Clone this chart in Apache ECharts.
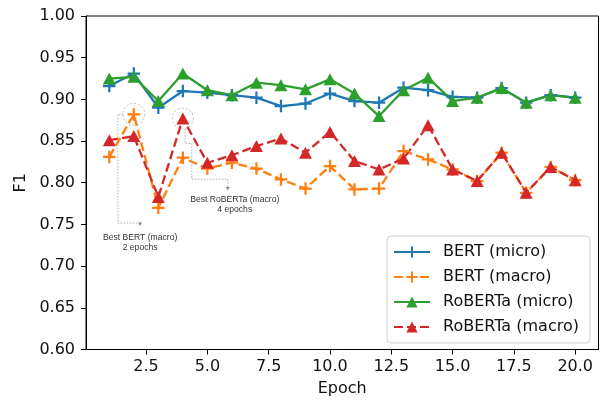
<!DOCTYPE html>
<html><head><meta charset="utf-8">
<script src="https://cdn.jsdelivr.net/npm/echarts@6/dist/echarts.min.js"></script>
<style>html,body{margin:0;padding:0;background:#fff}#c{width:606px;height:401px}</style>
</head><body><div id="c"></div>
<script>
const epochs = [1,2,3,4,5,6,7,8,9,10,11,12,13,14,15,16,17,18,19,20];
const bertMicro = [0.916,0.931,0.890,0.910,0.908,0.905,0.902,0.892,0.895,0.907,0.898,0.896,0.914,0.911,0.903,0.902,0.9135,0.896,0.905,0.902];
const bertMacro = [0.831,0.882,0.770,0.830,0.817,0.824,0.817,0.804,0.793,0.820,0.792,0.793,0.838,0.828,0.816,0.802,0.836,0.788,0.819,0.803];
const robertaMicro = [0.925,0.927,0.898,0.931,0.911,0.905,0.920,0.917,0.912,0.924,0.907,0.880,0.911,0.926,0.898,0.902,0.9135,0.896,0.905,0.902];
const robertaMacro = [0.851,0.856,0.783,0.877,0.824,0.833,0.844,0.853,0.836,0.861,0.826,0.816,0.829,0.869,0.816,0.802,0.836,0.788,0.819,0.803];
const xTicks = [2.5,5,7.5,10,12.5,15,17.5,20];
const seriesNames = ['BERT (micro)','BERT (macro)','RoBERTa (micro)','RoBERTa (macro)'];
const annoTexts = [['Best BERT (macro)','2 epochs'],['Best RoBERTa (macro)','4 epochs']];

const plus = 'path://M0,4.1H4.1V0H5.9V4.1H10V5.9H5.9V10H4.1V5.9H0Z';
const toData = arr => epochs.map((e,i)=>[e,arr[i]]);
function mk(name, arr, color, dashed, symbol, size){
  return {name, type:'line', data:toData(arr), symbol, symbolSize:size, showSymbol:true,
    lineStyle:{color, width:2.3, type: dashed?[9,4]:'solid'}, itemStyle:{color, borderWidth:0},
    emphasis:{disabled:true}, animation:false};
}
const font = 'DejaVu Sans';
const chart = echarts.init(document.getElementById('c'), null, {renderer:'canvas'});
chart.setOption({
  animation:false,
  grid:{left:86, right:7.5, top:16, bottom:51.5, containLabel:false, outerBoundsMode:'none',
        show:true, borderColor:'#000', borderWidth:1, backgroundColor:'transparent'},
  xAxis:{type:'value', min:0.05, max:20.95, name:'Epoch', nameLocation:'middle', nameGap:31.5,
    nameTextStyle:{fontFamily:font, fontSize:16, color:'#111'},
    axisLine:{show:true, lineStyle:{color:'#000', width:1}},
    axisTick:{show:true, length:5, lineStyle:{color:'#000'}, customValues:xTicks},
    axisLabel:{fontFamily:font, fontSize:16, color:'#111', margin:9, customValues:xTicks, formatter:v=>v.toFixed(1)},
    splitLine:{show:false}},
  yAxis:{type:'value', min:0.6, max:1.0, interval:0.05, name:'F1', nameLocation:'middle', nameGap:55, nameRotate:90,
    nameTextStyle:{fontFamily:font, fontSize:16, color:'#111'},
    axisLine:{show:true, lineStyle:{color:'#000', width:1}},
    axisTick:{show:true, length:5, lineStyle:{color:'#000'}},
    axisLabel:{fontFamily:font, fontSize:16, color:'#111', margin:11, formatter:v=>v.toFixed(2)},
    splitLine:{show:false}},
  legend:{orient:'vertical', left:387, top:236, itemWidth:36, itemHeight:14, itemGap:9,
    padding:[8,11,8,6], backgroundColor:'#fff', borderColor:'#d0d0d0', borderWidth:1, borderRadius:4,
    textStyle:{fontFamily:font, fontSize:16, color:'#111', padding:[0,0,0,8]},
    data:seriesNames},
  series:[
    mk(seriesNames[0], bertMicro, '#1f77b4', false, plus, 12.5),
    mk(seriesNames[1], bertMacro, '#ff7f0e', true, plus, 12.5),
    mk(seriesNames[2], robertaMicro, '#2ca02c', false, 'triangle', [13,12]),
    mk(seriesNames[3], robertaMacro, '#d62728', true, 'triangle', [13,12])
  ]
});

function arrowHead(x,y){
  return {type:'polygon', shape:{points:[[x-2,y-3.5],[x+2,y-3.5],[x,y]]}, style:{fill:'#888'}, z:10};
}
const p1 = chart.convertToPixel({gridIndex:0}, [epochs[1], bertMacro[1]]);
const p2 = chart.convertToPixel({gridIndex:0}, [epochs[3], robertaMacro[3]]);
const gStyle = {stroke:'#999', lineWidth:0.8, lineDash:[1.5,1.5], fill:null};
const tStyle = {fontFamily:'Liberation Sans', fontSize:8.6, fill:'#333', align:'center', verticalAlign:'middle'};
chart.setOption({graphic:[
  {type:'circle', shape:{cx:p1[0], cy:p1[1], r:11}, style:{stroke:'#aaa', lineWidth:0.8, lineDash:[2,2], fill:null}, z:10},
  {type:'polyline', shape:{points:[[p1[0]-10.5,p1[1]],[p1[0]-16,p1[1]],[p1[0]-16,p1[1]+108.7],[p1[0]+6.3,p1[1]+108.7],[p1[0]+6.3,p1[1]+110]]}, style:gStyle, z:10},
  arrowHead(p1[0]+6.3, p1[1]+111.5),
  {type:'text', style:Object.assign({x:p1[0]+6.3, y:p1[1]+123.7, text:annoTexts[0][0]}, tStyle), z:10},
  {type:'text', style:Object.assign({x:p1[0]+6.3, y:p1[1]+133.7, text:annoTexts[0][1]}, tStyle), z:10},
  {type:'circle', shape:{cx:p2[0], cy:p2[1], r:10.5}, style:{stroke:'#aaa', lineWidth:0.8, lineDash:[2,2], fill:null}, z:10},
  {type:'polyline', shape:{points:[[p2[0]+2.2,p2[1]+10.5],[p2[0]+2.2,p2[1]+24.9],[p2[0]+8.9,p2[1]+24.9],[p2[0]+8.9,p2[1]+60.6],[p2[0]+44.9,p2[1]+60.6],[p2[0]+44.9,p2[1]+69]]}, style:gStyle, z:10},
  arrowHead(p2[0]+44.9, p2[1]+72),
  {type:'text', style:Object.assign({x:p2[0]+51.9, y:p2[1]+80.6, text:annoTexts[1][0]}, tStyle), z:10},
  {type:'text', style:Object.assign({x:p2[0]+51.9, y:p2[1]+90.6, text:annoTexts[1][1]}, tStyle), z:10}
]});
</script></body></html>
